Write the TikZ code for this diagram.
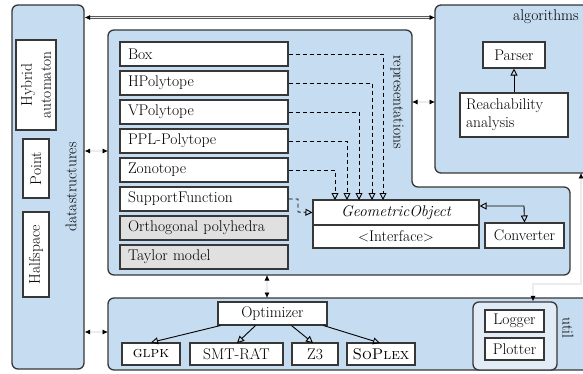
\documentclass[tikz,border=0pt]{standalone}
\usetikzlibrary{arrows.meta}
\definecolor{blueF}{RGB}{198,220,240}
\definecolor{blueL}{RGB}{226,236,247}
\definecolor{grayF}{RGB}{224,224,224}
\definecolor{bordc}{RGB}{55,55,55}
\definecolor{linkc}{RGB}{90,90,90}
\tikzset{
  cont/.style={draw=bordc, line width=1.3pt, fill=blueF, rounded corners=6pt},
  wbox/.style={draw=bordc, line width=1.1pt, fill=white, inner sep=0pt, text=black},
  lbox/.style={wbox, minimum width=168pt, minimum height=24pt, text width=152pt, align=left},
  gbox/.style={lbox, fill=grayF},
  depline/.style={line width=0.9pt, dash pattern=on 4pt off 3pt, -{Triangle[open,length=7pt,width=7pt]}},
  inhline/.style={line width=0.9pt, -{Triangle[open,length=7pt,width=7pt]}},
  linkline/.style={draw=linkc, double=gray!15, double distance=1.1pt, line width=0.65pt,
    {Latex[length=5.5pt,width=5pt,color=black]}-{Latex[length=5.5pt,width=5pt,color=black]}},
  lbl/.style={inner sep=0pt, text=black}
}
\begin{document}
\begin{tikzpicture}[x=1pt,y=-1pt,font=\fontsize{15.5}{19}\selectfont]
\clip (0,0) rectangle (583,374);
\fill[white] (0,0) rectangle (583,374);

% containers
\node[cont, minimum width=72pt, minimum height=364pt, inner sep=0pt] (ds) at (48,187) {};
\path[cont] (108,30) -- (412,30) -- (412,187) -- (570,187) -- (570,275) -- (108,275) -- cycle;
\path[cont] (435,5) -- (620,5) -- (620,173) -- (435,173) -- cycle;
\path[cont] (108,298) -- (620,298) -- (620,370) -- (108,370) -- cycle;
\node[cont, fill=blueL, minimum width=84pt, minimum height=68pt, inner sep=0pt] (lp) at (515,336) {};

% labels
\node[lbl, rotate=90] (dslbl) at (71,187) {datastructures};
\node[lbl, rotate=-90] (replbl) at (397,102) {representations};
\node[lbl, anchor=west] (alglbl) at (513,17) {algorithms};
\node[lbl, rotate=-90] (utillbl) at (568,328) {util};

% datastructures
\node[wbox, rotate=90, minimum width=90pt, minimum height=40pt, align=center] (ha) at (36,85) {Hybrid\\automaton};
\node[wbox, rotate=90, minimum width=59pt, minimum height=26pt] (pt) at (36,168.5) {Point};
\node[wbox, rotate=90, minimum width=85pt, minimum height=26pt] (hs) at (36,254.5) {Halfspace};

% representations
\node[lbox] (box) at (204,54) {Box};
\node[lbox] (hpol) at (204,83) {HPolytope};
\node[lbox] (vpol) at (204,112) {VPolytope};
\node[lbox] (ppl) at (204,141) {PPL-Polytope};
\node[lbox] (zono) at (204,170) {Zonotope};
\node[lbox] (sf) at (204,199) {SupportFunction};
\node[gbox] (orth) at (204,228) {Orthogonal polyhedra};
\node[gbox] (tm) at (204,257) {Taylor model};

\node[wbox, minimum width=166pt, minimum height=25pt] (geo) at (396,212.5) {\itshape GeometricObject};
\node[wbox, minimum width=166pt, minimum height=23pt] (iface) at (396,236.5) {$<$Interface$>$};
\node[wbox, minimum width=79pt, minimum height=25pt] (conv) at (524.5,235.5) {Converter};

\draw[depline] (box.east) -- (383,54) -- (383,200);
\draw[depline] (hpol.east) -- (372,83) -- (372,200);
\draw[depline] (vpol.east) -- (359,112) -- (359,200);
\draw[depline] (ppl.east) -- (347,141) -- (347,200);
\draw[depline] (zono.east) -- (335,170) -- (335,200);
\draw[depline] (sf.east) -- (298,199) -- (298,212) -- (geo.west);

\draw[line width=0.9pt, {Triangle[open,length=7pt,width=7pt]}-{Triangle[open,length=7pt,width=7pt]}]
  (geo.east |- 0,206) -- (524,206) -- (conv.north);

% algorithms
\node[wbox, minimum width=62pt, minimum height=26pt] (parser) at (514,55) {Parser};
\node[wbox, minimum width=108pt, minimum height=44pt, text width=96pt, align=left] (reach) at (514,115) {Reachability\\[-1pt]analysis};
\draw[inhline] (reach.north) -- (parser.south);

% util
\node[wbox, minimum width=109pt, minimum height=23pt] (opt) at (272.5,313.5) {Optimizer};
\node[wbox, minimum width=58pt, minimum height=22pt] (glpk) at (151,354) {\textsc{glpk}};
\node[wbox, minimum width=93pt, minimum height=22pt] (smt) at (236.5,354) {SMT-RAT};
\node[wbox, minimum width=46pt, minimum height=22pt] (z3) at (315,354) {Z3};
\node[wbox, minimum width=68pt, minimum height=22pt] (sop) at (381,354) {\textsc{SoPlex}};
\draw[inhline] (opt.south west) ++(3,0) -- (glpk.north);
\draw[inhline] (opt.south) ++(-17,0) -- (237,343);
\draw[inhline] (opt.south) ++(19,0) -- (313,343);
\draw[inhline] (opt.south east) ++(-4,0) -- (380,343);

\node[wbox, minimum width=59pt, minimum height=22pt] (logger) at (514.5,321) {Logger};
\node[wbox, minimum width=59pt, minimum height=22pt] (plotter) at (514.5,349) {Plotter};

% links
\coordinate (dsTop) at (ds.east |- 0,17.5);
\coordinate (algTop) at (435,17.5);
\draw[linkline] (dsTop) -- (algTop);
\draw[linkline] (ds.east |- 0,151) -- (108,151);
\draw[linkline] (412,102) -- (435,102);
\draw[linkline] (267,275) -- (267,298);
\draw[linkline] (ds.east |- 0,332) -- (108,332);
\coordinate (algBot) at (581,173);
\draw[linkline] (algBot) -- (581,284) -- (533,284) -- (lp.north -| 533,0);
\end{tikzpicture}
\end{document}
